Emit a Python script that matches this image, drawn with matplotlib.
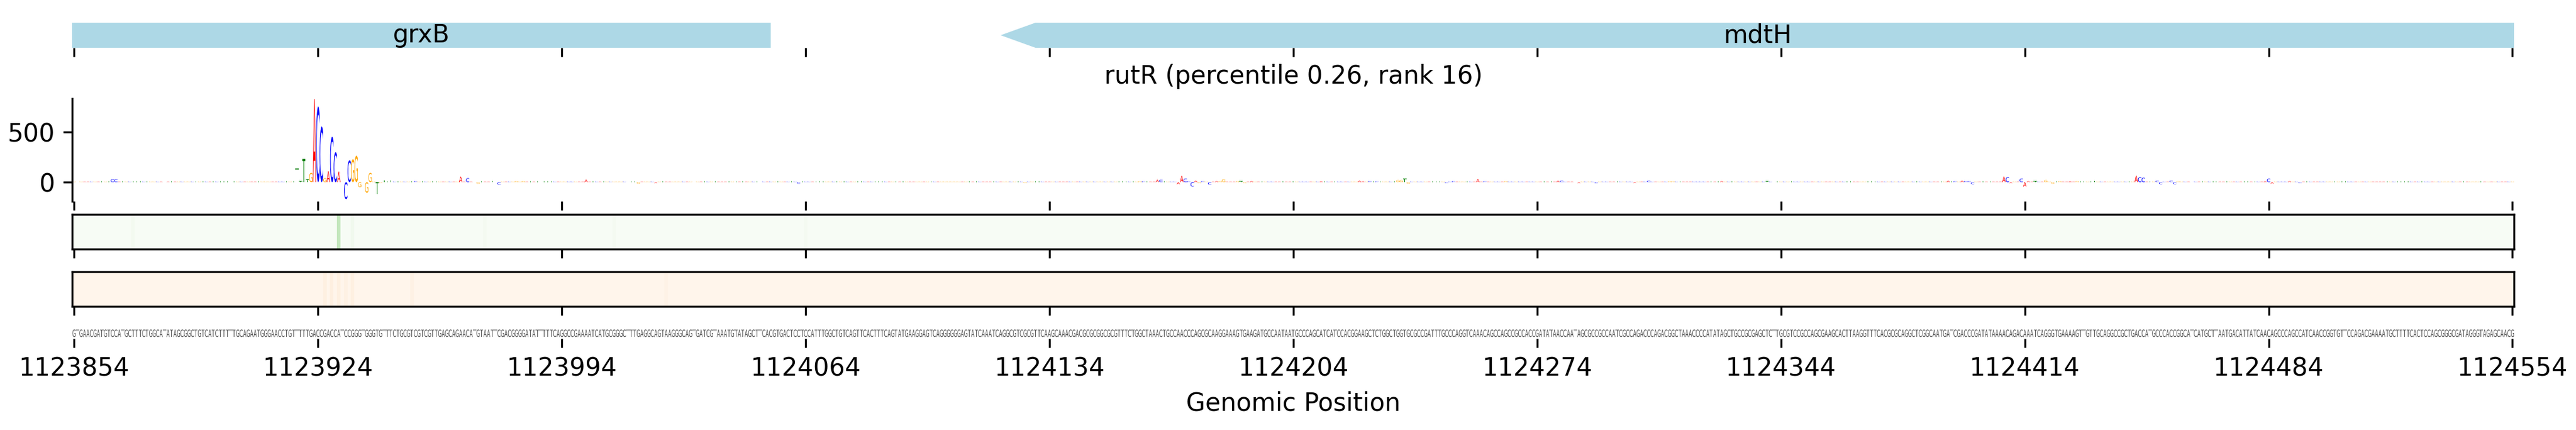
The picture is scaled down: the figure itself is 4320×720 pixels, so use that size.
import numpy as np
import matplotlib
matplotlib.use('Agg')
import matplotlib.pyplot as plt
from matplotlib.textpath import TextPath
from matplotlib.patches import PathPatch, Polygon
from matplotlib.font_manager import FontProperties
from matplotlib.transforms import Affine2D

window_start = 1123854
window_end = 1124554
sequence = (
    "GTGAACGATGTCCATGCTTTCTGGCATATAGCGGCTGTCATCTTTTTGCAGAATGGGAACCTGTTTTTGACCGACCATCCGGGTGGGTGTTTCTGCGTCGTCGTTGAGCAGAACATGTAA"
    "TTCGACGGGGATATTTTTCAGGCCGAAAATCATGCGGGCTTTGAGGCAGTAAGGGCAGTGATCGTAAATGTATAGCTTCACGTGACTCCTCCATTTGGCTGTCAGTTCACTTTCAGTATG"
    "AAGGAGTCAGGGGGGAGTATCAAATCAGGCGTCGCGTTCAAGCAAACGACGCGCGGCGCGTTTCTGGCTAAACTGCCAACCCAGCGCAAGGAAAGTGAAGATGCCAATAATGCCCAGCAT"
    "CATCCACGGAAGCTCTGGCTGGTGCGCCGATTTGCCCAGGTCAAACAGCCAGCCGCCACCGATATAACCAATAGCGCCGCCAATCGCCAGACCCAGACGGCTAAACCCCATATAGCTGCC"
    "GCGAGCTCTTGCGTCCGCCAGCGAAGCACTTAAGGTTTCACGCGCAGGCTCGGCAATGATCGACCCGATATAAAACAGACAAATCAGGGTGAAAAGTTGTTGCAGGCCGCTGACCATGCC"
    "CACCGGCATCATGCTTAATGACATTATCAACAGCCCAGCCATCAACCGGTGTTCCAGACGAAAATGCTTTTCACTCCAGCGGGCGATAGGGTAGAGCAACG"
)

# attribution per position (offset from window start); unlisted positions are tiny
attr_background = 4.0
attr_marked = {
    11: 30, 12: 30,
    64: 139, 65: 10, 66: 232, 67: 30, 68: 93, 69: 827, 70: 754, 71: 555,
    72: 40, 73: 109, 74: 452, 75: 298, 76: 105, 77: 8, 78: -169, 79: 218,
    80: 228, 81: 264, 82: -50, 83: -10, 84: -105, 85: 93, 86: 5, 87: -119,
    88: -8, 89: 20, 90: 6, 91: 20, 98: 12, 111: 55, 113: 40, 116: -15,
    120: 12, 122: -25, 127: 10, 129: 10, 147: 25, 162: -15, 167: -10, 208: -15,
    273: -8, 276: 8, 306: 8, 307: 8,
    311: 24, 312: 24, 317: -20, 318: 63, 319: 36, 320: 10, 321: -44, 322: 15,
    323: -10, 324: 10, 326: -25, 328: 10, 329: 10, 330: 30, 334: 10, 335: 10,
    336: -10, 338: 10, 358: 8, 369: 15, 370: 8, 372: 12, 373: 8, 374: 8,
    380: 20, 381: 20, 382: 34, 383: -15,
    394: -10, 396: 10, 403: 30, 405: 10, 411: 10, 426: 15, 427: 15, 432: -10,
    437: -12, 448: -8, 452: 15, 458: 8, 459: 8, 473: 10, 486: 10, 529: 8,
    538: 15, 540: 10, 542: 15, 543: 12, 544: 12, 545: -20, 548: 8, 554: 56,
    555: 50, 556: -10, 559: 36, 560: -44, 561: 10, 563: 10, 566: 20, 568: -15,
    570: 10, 573: 8, 575: 10, 580: 12, 592: 65, 593: 50, 594: 45, 598: 15,
    599: -20, 602: 15, 603: -20, 604: 8, 608: -10, 629: 8, 630: 35, 631: -15,
    636: 10, 639: -10, 649: 8,
}

# heat tracks (0..1 on the colormap)
green_marked = {17: 0.03, 76: 0.26, 80: 0.04, 118: 0.02, 155: 0.02, 210: 0.02}
orange_marked = {72: 0.04, 74: 0.05, 76: 0.04, 78: 0.03, 80: 0.04, 97: 0.03, 170: 0.02}

genes = ['grxB', 'mdtH']
gene_starts = [1123700, 1124120]
gene_ends = [1124054, 1125330]
gene_strands = ['-', '-']

title = 'rutR (percentile 0.26, rank 16)'
base_colors = {'A': '#ff0000', 'C': '#0000ff', 'G': '#ffa500', 'T': '#008000'}

n = len(sequence)
positions = window_start + np.arange(n)
attribution = np.full(n, attr_background)
for k, v in attr_marked.items():
    attribution[k] = v
green = np.zeros(n)
for k, v in green_marked.items():
    green[k] = v
orange = np.zeros(n)
for k, v in orange_marked.items():
    orange[k] = v

xlim = (window_start - 0.5, window_start + n - 0.5)
xticks = np.arange(window_start, window_end + 1, 70)

fp = FontProperties(family='DejaVu Sans')
glyph_cache = {}


def draw_letter(ax, ch, x, bottom, height, width, color):
    if ch not in glyph_cache:
        glyph_cache[ch] = TextPath((0, 0), ch, size=1, prop=fp)
    path = glyph_cache[ch]
    ext = path.get_extents()
    tr = (Affine2D().translate(-ext.x0, -ext.y0)
          .scale(width / ext.width, height / ext.height)
          .translate(x - width / 2, bottom))
    ax.add_patch(PathPatch(tr.transform_path(path), facecolor=color,
                           edgecolor='none', lw=0))


fig = plt.figure(figsize=(14.4, 2.4), dpi=300)
L, W = 0.02806, 0.94796
ax_gene = fig.add_axes([L, 0.88889, W, 0.05833])
ax_logo = fig.add_axes([L, 0.53194, W, 0.23889])
ax_green = fig.add_axes([L, 0.42083, W, 0.08056])
ax_orange = fig.add_axes([L, 0.28750, W, 0.08056])
ax_seq = fig.add_axes([L, 0.2125, W, 0.025])

for ax in [ax_gene, ax_logo, ax_green, ax_orange, ax_seq]:
    ax.set_xlim(*xlim)
    ax.set_xticks(xticks)
    ax.ticklabel_format(axis='x', style='plain', useOffset=False)

# genes
head = 10
for name, s, e, strand in zip(genes, gene_starts, gene_ends, gene_strands):
    if strand == '-':
        pts = [(s, 0.5), (s + head, 1), (e, 1), (e, 0), (s + head, 0)]
    else:
        pts = [(s, 0), (e - head, 0), (e, 0.5), (e - head, 1), (s, 1)]
    ax_gene.add_patch(Polygon(pts, closed=True, facecolor='lightblue', edgecolor='none'))
    lo, hi = max(s, xlim[0]), min(e, xlim[1])
    ax_gene.text((lo + hi) / 2, 0.5, name, ha='center', va='center', fontsize=10)
ax_gene.set_ylim(0, 1)
ax_gene.set_yticks([])
ax_gene.tick_params(labelbottom=False)
for sp in ax_gene.spines.values():
    sp.set_visible(False)

# logo
for p, ch, h in zip(positions, sequence, attribution):
    if h >= 0:
        draw_letter(ax_logo, ch, p, 0, h, 0.95, base_colors[ch])
    else:
        draw_letter(ax_logo, ch, p, h, -h, 0.95, base_colors[ch])
ax_logo.set_ylim(-190, 833)
ax_logo.set_yticks([0, 500])
ax_logo.tick_params(labelbottom=False)
for s in ['top', 'right', 'bottom']:
    ax_logo.spines[s].set_visible(False)
ax_logo.set_title(title, fontsize=10)

# heat tracks
for ax, vals, cmap in [(ax_green, green, 'Greens'), (ax_orange, orange, 'Oranges')]:
    ax.imshow(vals[None, :], aspect='auto', cmap=cmap, vmin=0, vmax=1,
              extent=(xlim[0], xlim[1], 0, 1), interpolation='nearest')
    ax.set_xlim(*xlim)
    ax.set_ylim(0, 1)
    ax.set_yticks([])
    ax.tick_params(labelbottom=False)

# sequence
for p, ch in zip(positions, sequence):
    draw_letter(ax_seq, ch, p, 0.15, 0.7, 0.9, '#555555')
ax_seq.set_ylim(0, 1)
ax_seq.set_yticks([])
for sp in ax_seq.spines.values():
    sp.set_visible(False)
ax_seq.set_xlabel('Genomic Position', fontsize=10)

fig.savefig('out.png', dpi=300)
